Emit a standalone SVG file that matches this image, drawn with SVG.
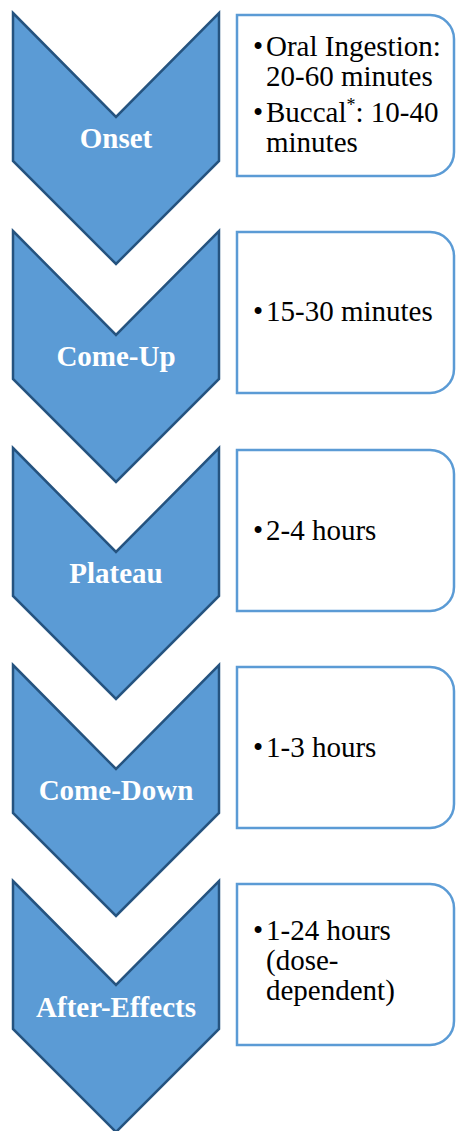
<svg xmlns="http://www.w3.org/2000/svg" width="456" height="1131" viewBox="0 0 456 1131">
<defs>
<style>
.chev{fill:#5B9BD5;stroke:#25537F;stroke-width:2.5;stroke-linejoin:miter}
.box{fill:#FFFFFF;stroke:#5B9BD5;stroke-width:2.5}
.lbl{font-family:'Liberation Serif','Times New Roman',serif;font-weight:bold;font-size:29px;fill:#FFFFFF;text-anchor:middle}
.txt{font-family:'Liberation Serif','Times New Roman',serif;font-size:29px;fill:#000000}
</style>
<path id="chevShape" d="M13,0 L116,104 L219,0 L219,148 L116,251 L13,148 Z"/>
<path id="boxShape" d="M237,0 H430 A24,24 0 0 1 454,24 V137 A24,24 0 0 1 430,161 H237 Z"/>
</defs>
<g id="connectors"></g>
<g id="onset">
<use href="#chevShape" class="chev" transform="translate(0,13)"/>
<text class="lbl" x="116" y="148">Onset</text>
</g>
<g id="onset-detail">
<use href="#boxShape" class="box" transform="translate(0,15)"/>
<text class="txt" x="253" y="56">•</text>
<text class="txt" x="266" y="56">Oral Ingestion:</text>
<text class="txt" x="266" y="86">20-60 minutes</text>
<text class="txt" x="253" y="122">•</text>
<text class="txt" x="266" y="122">Buccal<tspan font-size="18" dy="-11">*</tspan><tspan dy="11">: 10-40</tspan></text>
<text class="txt" x="266" y="152">minutes</text>
</g>
<g id="come-up">
<use href="#chevShape" class="chev" transform="translate(0,231)"/>
<text class="lbl" x="116" y="366">Come-Up</text>
</g>
<g id="come-up-detail">
<use href="#boxShape" class="box" transform="translate(0,232)"/>
<text class="txt" x="253" y="321">•</text>
<text class="txt" x="266" y="321">15-30 minutes</text>
</g>
<g id="plateau">
<use href="#chevShape" class="chev" transform="translate(0,448)"/>
<text class="lbl" x="116" y="583">Plateau</text>
</g>
<g id="plateau-detail">
<use href="#boxShape" class="box" transform="translate(0,450)"/>
<text class="txt" x="253" y="540">•</text>
<text class="txt" x="266" y="540">2-4 hours</text>
</g>
<g id="come-down">
<use href="#chevShape" class="chev" transform="translate(0,665)"/>
<text class="lbl" x="116" y="800">Come-Down</text>
</g>
<g id="come-down-detail">
<use href="#boxShape" class="box" transform="translate(0,667)"/>
<text class="txt" x="253" y="757">•</text>
<text class="txt" x="266" y="757">1-3 hours</text>
</g>
<g id="after-effects">
<use href="#chevShape" class="chev" transform="translate(0,881)"/>
<text class="lbl" x="116" y="1017">After-Effects</text>
</g>
<g id="after-effects-detail">
<use href="#boxShape" class="box" transform="translate(0,884)"/>
<text class="txt" x="253" y="940">•</text>
<text class="txt" x="266" y="940">1-24 hours</text>
<text class="txt" x="266" y="970">(dose-</text>
<text class="txt" x="266" y="1000">dependent)</text>
</g>
</svg>
